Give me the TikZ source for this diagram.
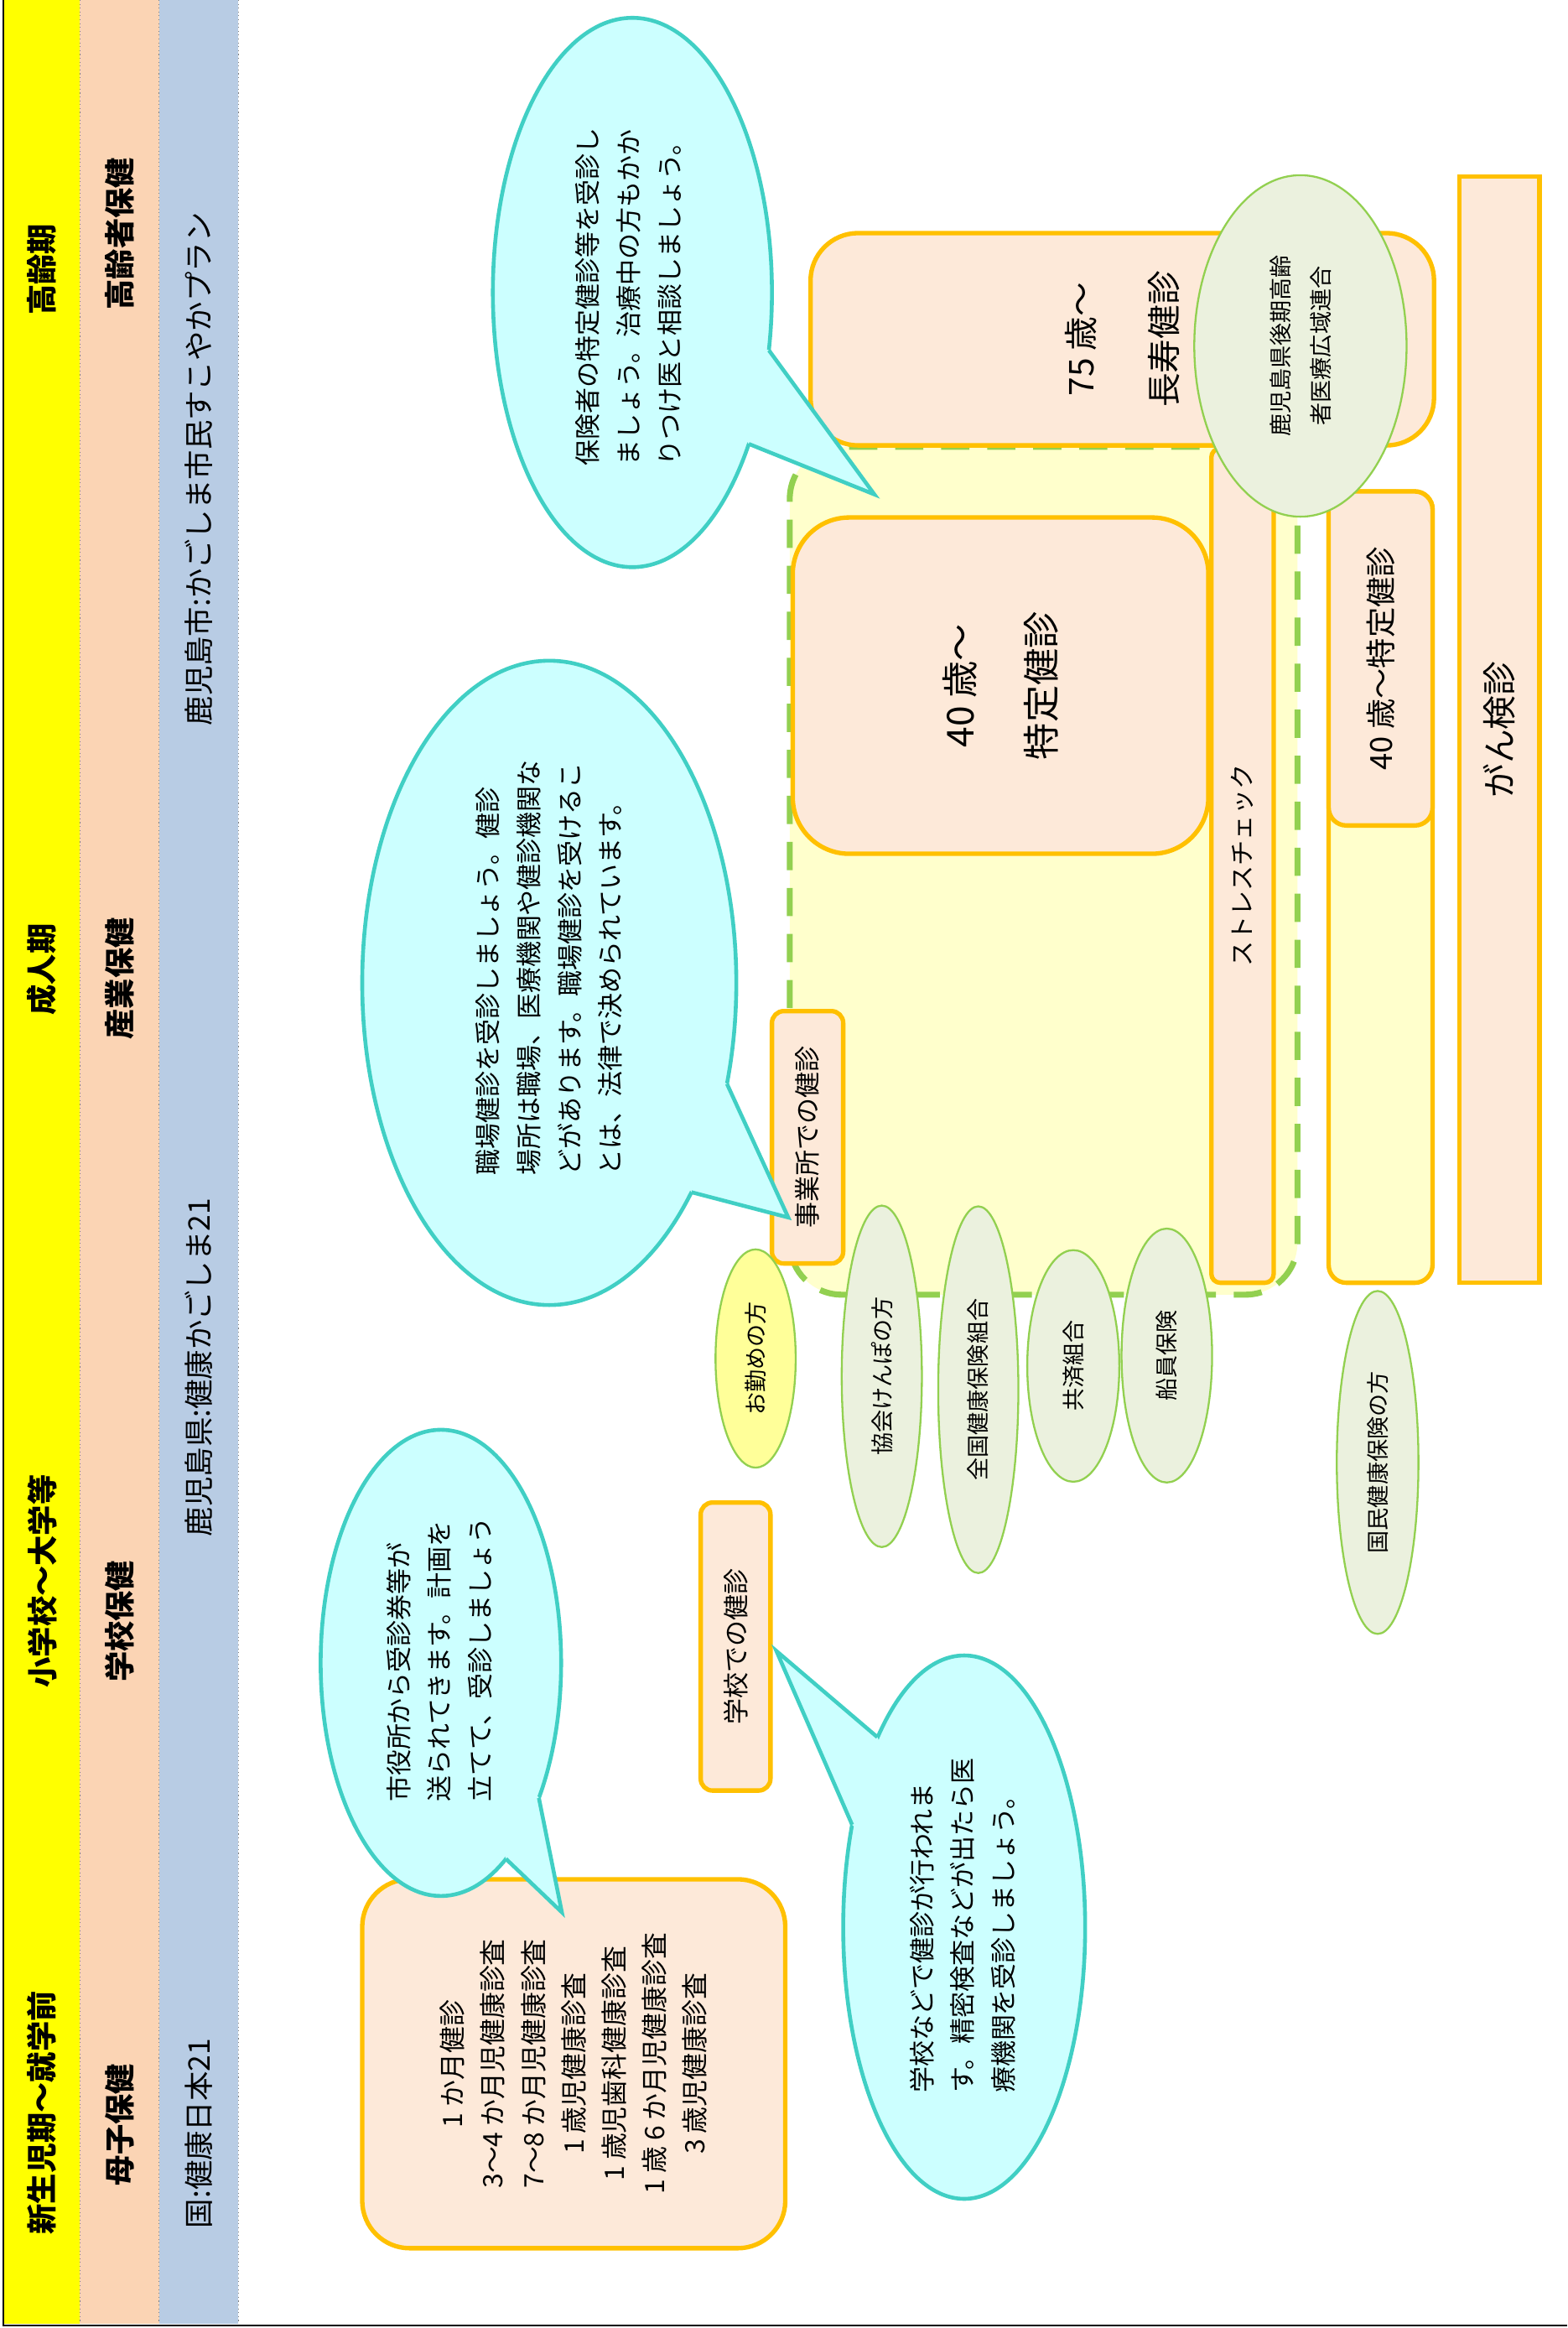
\documentclass[tikz,border=0pt]{standalone}
\usepackage{fontspec}
\setmainfont{Noto Sans CJK JP}
\usetikzlibrary{shapes.geometric}

\definecolor{bandyellow}{HTML}{FFFF00}
\definecolor{bandpeach}{HTML}{FBD4B4}
\definecolor{bandblue}{HTML}{B8CCE4}
\definecolor{boxfill}{HTML}{FDE9D9}
\definecolor{boxline}{HTML}{FFC000}
\definecolor{callfill}{HTML}{CCFFFF}
\definecolor{callline}{HTML}{40CFC4}
\definecolor{insfill}{HTML}{EBF1DE}
\definecolor{insline}{HTML}{92D050}
\definecolor{areafill}{HTML}{FFFFCC}
\definecolor{workfill}{HTML}{FFFF99}

\tikzset{
    vtext/.style={rotate=90, inner sep=0pt, align=center},
    bandlabel/.style={vtext, font=\fontsize{20.5}{24}\selectfont\bfseries},
    planlabel/.style={vtext, font=\fontsize{20}{24}\selectfont},
    checkbox/.style={draw=boxline, fill=boxfill, line width=3pt, rotate=90,
        inner sep=0pt, align=center, rounded corners=#1},
    checkbox/.default=8pt,
    insurer/.style={ellipse, draw=insline, fill=insfill, line width=1.3pt, rotate=90,
        inner sep=0pt, align=center, font=\fontsize{15.3}{27}\selectfont},
    workarea/.style={draw=insline, fill=areafill, line width=4pt,
        dash pattern=on 19pt off 12pt, rounded corners=35pt},
    bubble/.style={ellipse, draw=callline, fill=callfill, line width=2.6pt, inner sep=0pt},
    bubbletail/.style={draw=callline, line width=2.6pt, line join=miter},
    bubbletext/.style={rotate=90, inner sep=0pt, align=left, anchor=west,
        font=\fontsize{17.5}{27.5}\selectfont},
}

\begin{document}
\begin{tikzpicture}[x=1pt, y=-1pt]
    \useasboundingbox (0,0) rectangle (1055.7,1568);

    % Bands on the left
    \fill[bandyellow] (2.5,0) rectangle (53.7,1565);
    \fill[bandpeach] (53.7,0) rectangle (107.3,1565);
    \fill[bandblue] (107.3,0) rectangle (160.5,1565);
    \foreach \x in {53.7,107.3,160.5}
        \draw[gray, dotted, line width=0.6pt] (\x,0) -- (\x,1565);
    \draw[line width=1.2pt] (2.5,0) -- (2.5,1566.5) -- (1055.7,1566.5);

    % Band labels
    \node[bandlabel] (ageold) at (28.3,181.5) {高齢期};
    \node[bandlabel] (ageadult) at (28.3,653) {成人期};
    \node[bandlabel] (ageschool) at (28.3,1065) {小学校～大学等};
    \node[bandlabel] (ageinfant) at (28.3,1423) {新生児期～就学前};
    \node[bandlabel] (fieldold) at (80.5,157.5) {高齢者保健};
    \node[bandlabel] (fieldwork) at (80.5,659) {産業保健};
    \node[bandlabel] (fieldschool) at (80.5,1092) {学校保健};
    \node[bandlabel] (fieldinfant) at (80.5,1431) {母子保健};
    \node[planlabel] (plancity) at (134,316) {鹿児島市:かごしま市民すこやかプラン};
    \node[planlabel] (planpref) at (134,921) {鹿児島県:健康かごしま21};
    \node[planlabel] (plannation) at (134,1437) {国:健康日本21};

    % Workplace area
    \node[workarea, minimum width=342pt, minimum height=571pt] (workzone) at (703,586.5) {};

    % Check-up boxes
    \node[checkbox=32pt, minimum width=143pt, minimum height=420pt,
        font=\fontsize{23}{56}\selectfont] (longlife) at (756,228.5) {75 歳～\\長寿健診};
    \node[checkbox=38pt, minimum width=226.5pt, minimum height=280pt,
        font=\fontsize{25}{55}\selectfont] (tokutei) at (674,461.8) {40 歳～\\特定健診};
    \node[checkbox=6pt, minimum width=562pt, minimum height=42pt,
        font=\fontsize{17}{20}\selectfont] (stress) at (837,583) {ストレスチェック};
    \node[checkbox=12pt, fill=areafill, minimum width=533pt, minimum height=70pt] (kokuhozone) at (930,597.5) {};
    \node[checkbox=12pt, minimum width=225pt, minimum height=70pt,
        font=\fontsize{20.5}{24}\selectfont] (kokuhotokutei) at (930,443.5) {40 歳～特定健診};
    \node[checkbox=0pt, minimum width=745pt, minimum height=54pt,
        font=\fontsize{23}{26}\selectfont] (cancer) at (1010,491.5) {がん検診};

    % Insurers
    \node[insurer, minimum width=230pt, minimum height=143pt] (kouki) at (876,233) {鹿児島県後期高齢\\者医療広域連合};
    \node[checkbox, minimum width=170pt, minimum height=48pt,
        font=\fontsize{17.5}{20}\selectfont] (office) at (544,766) {事業所での健診};
    \foreach \name/\x/\y/\len/\wid/\txt in {
        kyokai/594/927/230/54/協会けんぽの方,
        kenpo/659/936/247/54/全国健康保険組合,
        kyosai/723/920/156/62/共済組合,
        senin/786/913/171/61/船員保険,
        kokuho/928/985/231/55/国民健康保険の方}
        \node[insurer, minimum width=\len pt, minimum height=\wid pt] (\name) at (\x,\y) {\txt};
    \node[insurer, fill=workfill, minimum width=147pt, minimum height=54pt] (worker) at (509,915) {お勤めの方};

    % School and infant boxes
    \node[checkbox, minimum width=194pt, minimum height=47pt,
        font=\fontsize{17.5}{20}\selectfont] (school) at (495.5,1109) {学校での健診};
    \node[checkbox=32pt, minimum width=248.5pt, minimum height=285pt,
        font=\fontsize{18}{27.2}\selectfont] (infant) at (386.5,1390) {1 か月健診\\3～4 か月児健康診査\\7～8 か月児健康診査\\1 歳児健康診査\\1 歳児歯科健康診査\\1 歳 6 か月児健康診査\\3 歳児健康診査};

    % Speech bubbles
    \node[bubble, minimum width=188pt, minimum height=370pt] (adviceold) at (426,197) {};
    \coordinate (adviceoldin) at (518,236);
    \coordinate (adviceoldout) at (504.4,299);
    \coordinate (adviceoldtip) at (589,333);
    \fill[callfill] (adviceoldin) -- (adviceoldtip) -- (adviceoldout) -- (adviceold.center) -- cycle;
    \draw[bubbletail] (adviceoldin) -- (adviceoldtip) -- (adviceoldout);

    \node[bubble, minimum width=252pt, minimum height=434pt] (advicework) at (370,662) {};
    \coordinate (adviceworkin) at (489.7,730);
    \coordinate (adviceworkout) at (465.8,803);
    \coordinate (adviceworktip) at (531,820);
    \fill[callfill] (adviceworkin) -- (adviceworktip) -- (adviceworkout) -- (advicework.center) -- cycle;
    \draw[bubbletail] (adviceworkin) -- (adviceworktip) -- (adviceworkout);

    \node[bubble, minimum width=162pt, minimum height=314pt] (adviceinfant) at (297,1120) {};
    \coordinate (adviceinfantin) at (363,1211);
    \coordinate (adviceinfantout) at (340.8,1252);
    \coordinate (adviceinfanttip) at (378.5,1288);
    \fill[callfill] (adviceinfantin) -- (adviceinfanttip) -- (adviceinfantout) -- (adviceinfant.center) -- cycle;
    \draw[bubbletail] (adviceinfantin) -- (adviceinfanttip) -- (adviceinfantout);

    \node[bubble, minimum width=163pt, minimum height=366pt] (adviceschool) at (649.5,1298) {};
    \coordinate (adviceschoolin) at (591,1170);
    \coordinate (adviceschoolout) at (574,1229);
    \coordinate (adviceschooltip) at (523,1112);
    \fill[callfill] (adviceschoolin) -- (adviceschooltip) -- (adviceschoolout) -- (adviceschool.center) -- cycle;
    \draw[bubbletail] (adviceschoolin) -- (adviceschooltip) -- (adviceschoolout);

    % Bubble texts
    \node[bubbletext] (adviceoldtext) at (423.5,314) {保険者の特定健診等を受診し\\ましょう。治療中の方もかか\\りつけ医と相談しましょう。};
    \node[bubbletext] (adviceworktext) at (370,792) {職場健診を受診しましょう。健診\\場所は職場、医療機関や健診機関な\\どがあります。職場健診を受けるこ\\とは、法律で決められています。};
    \node[bubbletext] (adviceinfanttext) at (296,1214) {市役所から受診券等が\\送られてきます。計画を\\立てて、受診しましょう};
    \node[bubbletext] (adviceschooltext) at (648.5,1410) {学校などで健診が行われま\\す。精密検査などが出たら医\\療機関を受診しましょう。};

\end{tikzpicture}
\end{document}
